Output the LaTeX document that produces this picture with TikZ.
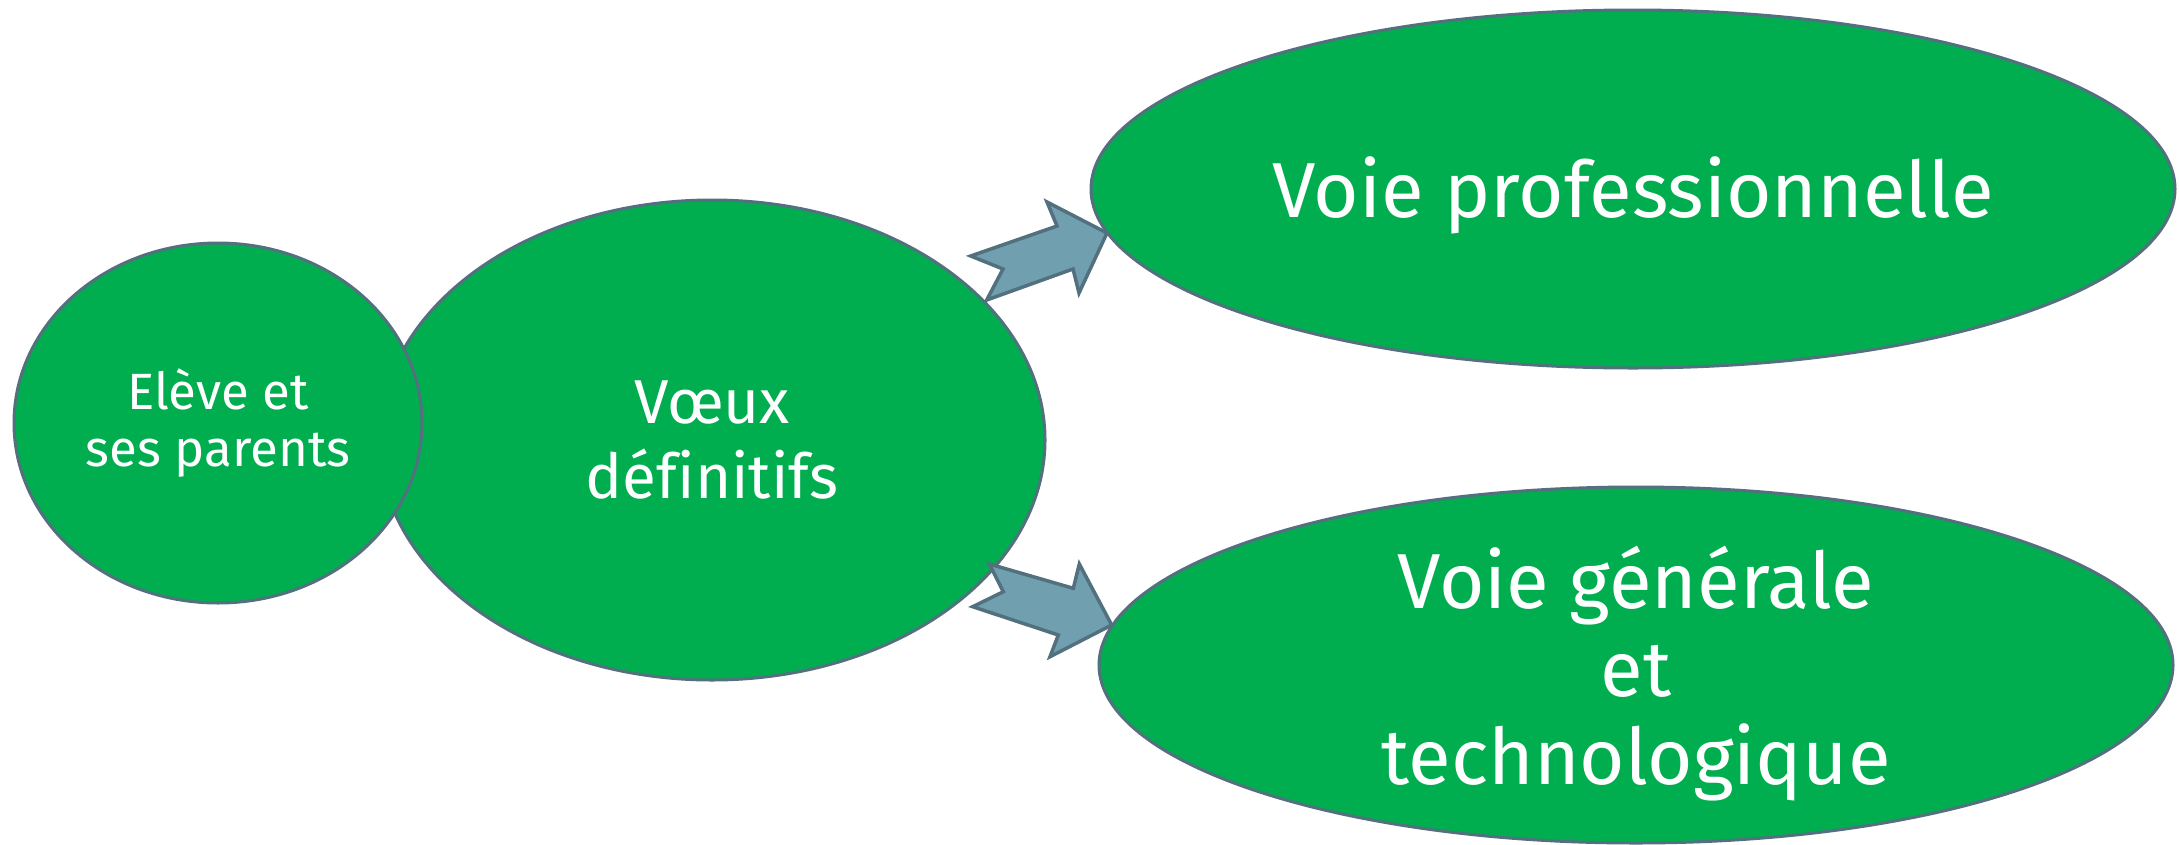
\documentclass[tikz,border=0pt]{standalone}
\usepackage{fontspec}
\setmainfont{Fira Sans}[Ligatures=NoCommon]
\usetikzlibrary{shapes.geometric}
\definecolor{grn}{RGB}{0,174,80}
\definecolor{edgec}{RGB}{82,112,126}
\definecolor{arrowfill}{RGB}{112,160,176}
\begin{document}
\begin{tikzpicture}[x=1pt,y=-1pt,
  bubble/.style={ellipse, draw=edgec, line width=3pt, fill=grn, inner sep=0pt},
  lbl/.style={text=white, align=center, inner sep=0pt},
  blockarrow/.style={draw=edgec, fill=arrowfill, line width=3.5pt, line join=miter}]
\useasboundingbox (0,0) rectangle (2179,844);
% ellipses
\node[bubble, minimum width=666pt, minimum height=480pt] (e2) at (712,440) {};
\node[bubble, minimum width=408pt, minimum height=360pt] (e1) at (218,423) {};
\node[bubble, minimum width=1084pt, minimum height=358pt] (e3) at (1633,189) {};
\node[bubble, minimum width=1074pt, minimum height=356pt] (e4) at (1636,665) {};
% labels
\node[lbl, font=\fontsize{51}{57}\selectfont] (t1) at (e1.center) {Elève et\\ses parents};
\node[lbl, font=\fontsize{62}{75}\selectfont] (t2) at (e2.center) {Vœux\\définitifs};
\node[lbl, font=\fontsize{78}{88}\selectfont] (t3) at ([yshift=-6pt]e3.center) {Voie professionnelle};
\node[lbl, font=\fontsize{78}{88}\selectfont] (t4) at ([yshift=-9pt]e4.center) {Voie générale\\et\\technologique};
% block arrows
\coordinate (a1a) at (970.7,256);
\coordinate (a1b) at (1057,226);
\coordinate (a1c) at (1047,202);
\coordinate (a1tip) at (1107,233);
\coordinate (a1d) at (1079,293);
\coordinate (a1e) at (1073,269);
\coordinate (a1f) at (986.7,300);
\coordinate (a1n) at (1003,269);
\draw[blockarrow] (a1a) -- (a1b) -- (a1c) -- (a1tip) -- (a1d) -- (a1e) -- (a1f) -- (a1n) -- cycle;
\coordinate (a2a) at (989.3,564);
\coordinate (a2b) at (1073.3,588.3);
\coordinate (a2c) at (1079.3,564);
\coordinate (a2tip) at (1111.7,625);
\coordinate (a2d) at (1050,656.7);
\coordinate (a2e) at (1058.3,635);
\coordinate (a2f) at (972.7,606.7);
\coordinate (a2n) at (1003.3,591.7);
\draw[blockarrow] (a2a) -- (a2b) -- (a2c) -- (a2tip) -- (a2d) -- (a2e) -- (a2f) -- (a2n) -- cycle;
\end{tikzpicture}
\end{document}
